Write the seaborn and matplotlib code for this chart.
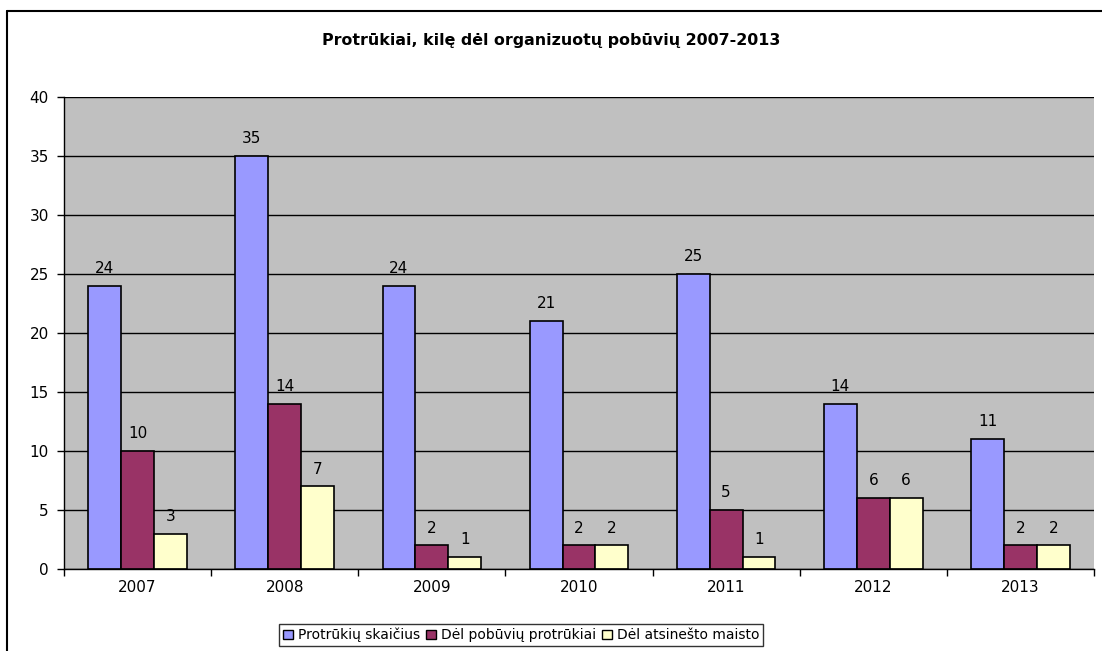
import matplotlib
matplotlib.use("Agg")
import matplotlib.pyplot as plt
import seaborn as sns
import pandas as pd
from matplotlib.patches import Rectangle
from matplotlib.lines import Line2D

years = ["2007", "2008", "2009", "2010", "2011", "2012", "2013"]
series_names = ["Protrūkių skaičius", "Dėl pobūvių protrūkiai", "Dėl atsinešto maisto"]
outbreaks = [24, 35, 24, 21, 25, 14, 11]
party = [10, 14, 2, 2, 5, 6, 2]
brought_food = [3, 7, 1, 2, 1, 6, 2]
colors = ["#9999FF", "#993366", "#FFFFCC"]
title = "Protrūkiai, kilę dėl organizuotų pobūvių 2007-2013"

rows = []
for name, vals in zip(series_names, [outbreaks, party, brought_food]):
    for y, v in zip(years, vals):
        rows.append({"Metai": y, "Serija": name, "Reikšmė": v})
df = pd.DataFrame(rows)

sns.set_theme(style="white")
plt.rcParams["font.family"] = ["DejaVu Sans"]
plt.rcParams["text.color"] = "black"

FS = 11

fig = plt.figure(figsize=(11.02, 6.51), dpi=100)
ax = fig.add_axes([64/1102, 1-569/651, (1094-64)/1102, (569-97)/651])
ax.set_facecolor("#C0C0C0")

sns.barplot(data=df, x="Metai", y="Reikšmė", hue="Serija", palette=colors,
            width=0.67, edgecolor="black", linewidth=1.2, ax=ax, legend=True,
            saturation=1)

for c in ax.containers:
    ax.bar_label(c, padding=7, fontsize=FS, color="black")

ax.set_ylim(0, 40)
ax.set_xlim(-0.5, len(years) - 0.5)
ax.set_yticks(range(0, 41, 5))
ax.yaxis.grid(True, color="black", linewidth=1)
ax.set_axisbelow(True)
ax.set_xlabel("")
ax.set_ylabel("")
ax.set_xticks([i - 0.5 for i in range(len(years) + 1)], minor=False)
ax.set_xticklabels([""] * (len(years) + 1))
ax.set_xticks(range(len(years)), minor=True)
ax.set_xticklabels(years, minor=True)
ax.tick_params(axis="x", which="major", length=5, width=1, color="black", direction="out", bottom=True)
ax.tick_params(axis="x", which="minor", length=0, labelsize=FS, pad=8, colors="black")
ax.tick_params(axis="y", length=5, width=1, color="black", direction="out", left=True, labelsize=FS, pad=6, colors="black")
for s in ["top", "right"]:
    ax.spines[s].set_visible(False)
for s in ["left", "bottom"]:
    ax.spines[s].set_color("black")
    ax.spines[s].set_linewidth(1)

ax.legend_.remove()
handles = [Rectangle((0, 0), 1, 1, facecolor=c, edgecolor="black", linewidth=1) for c in colors]
leg = fig.legend(handles, series_names, loc="center", bbox_to_anchor=(521/1102, 1-635/651),
                 ncol=3, frameon=True, fontsize=10, handlelength=0.7, handleheight=0.7,
                 handletextpad=0.35, columnspacing=0.45, borderpad=0.3, fancybox=False)
leg.get_frame().set_edgecolor("black")
leg.get_frame().set_linewidth(1)

fig.text(551/1102, 1-40/651, title, ha="center", va="center", fontsize=11.4,
         fontweight="bold", color="black")

top_y = 1 - 11/651
left_x = 7/1102
fig.lines.append(Line2D([left_x, 1], [top_y, top_y], transform=fig.transFigure,
                        color="black", linewidth=1.5))
fig.lines.append(Line2D([left_x, left_x], [0, top_y], transform=fig.transFigure,
                        color="black", linewidth=1.5))

fig.savefig("out.png", dpi=100)
